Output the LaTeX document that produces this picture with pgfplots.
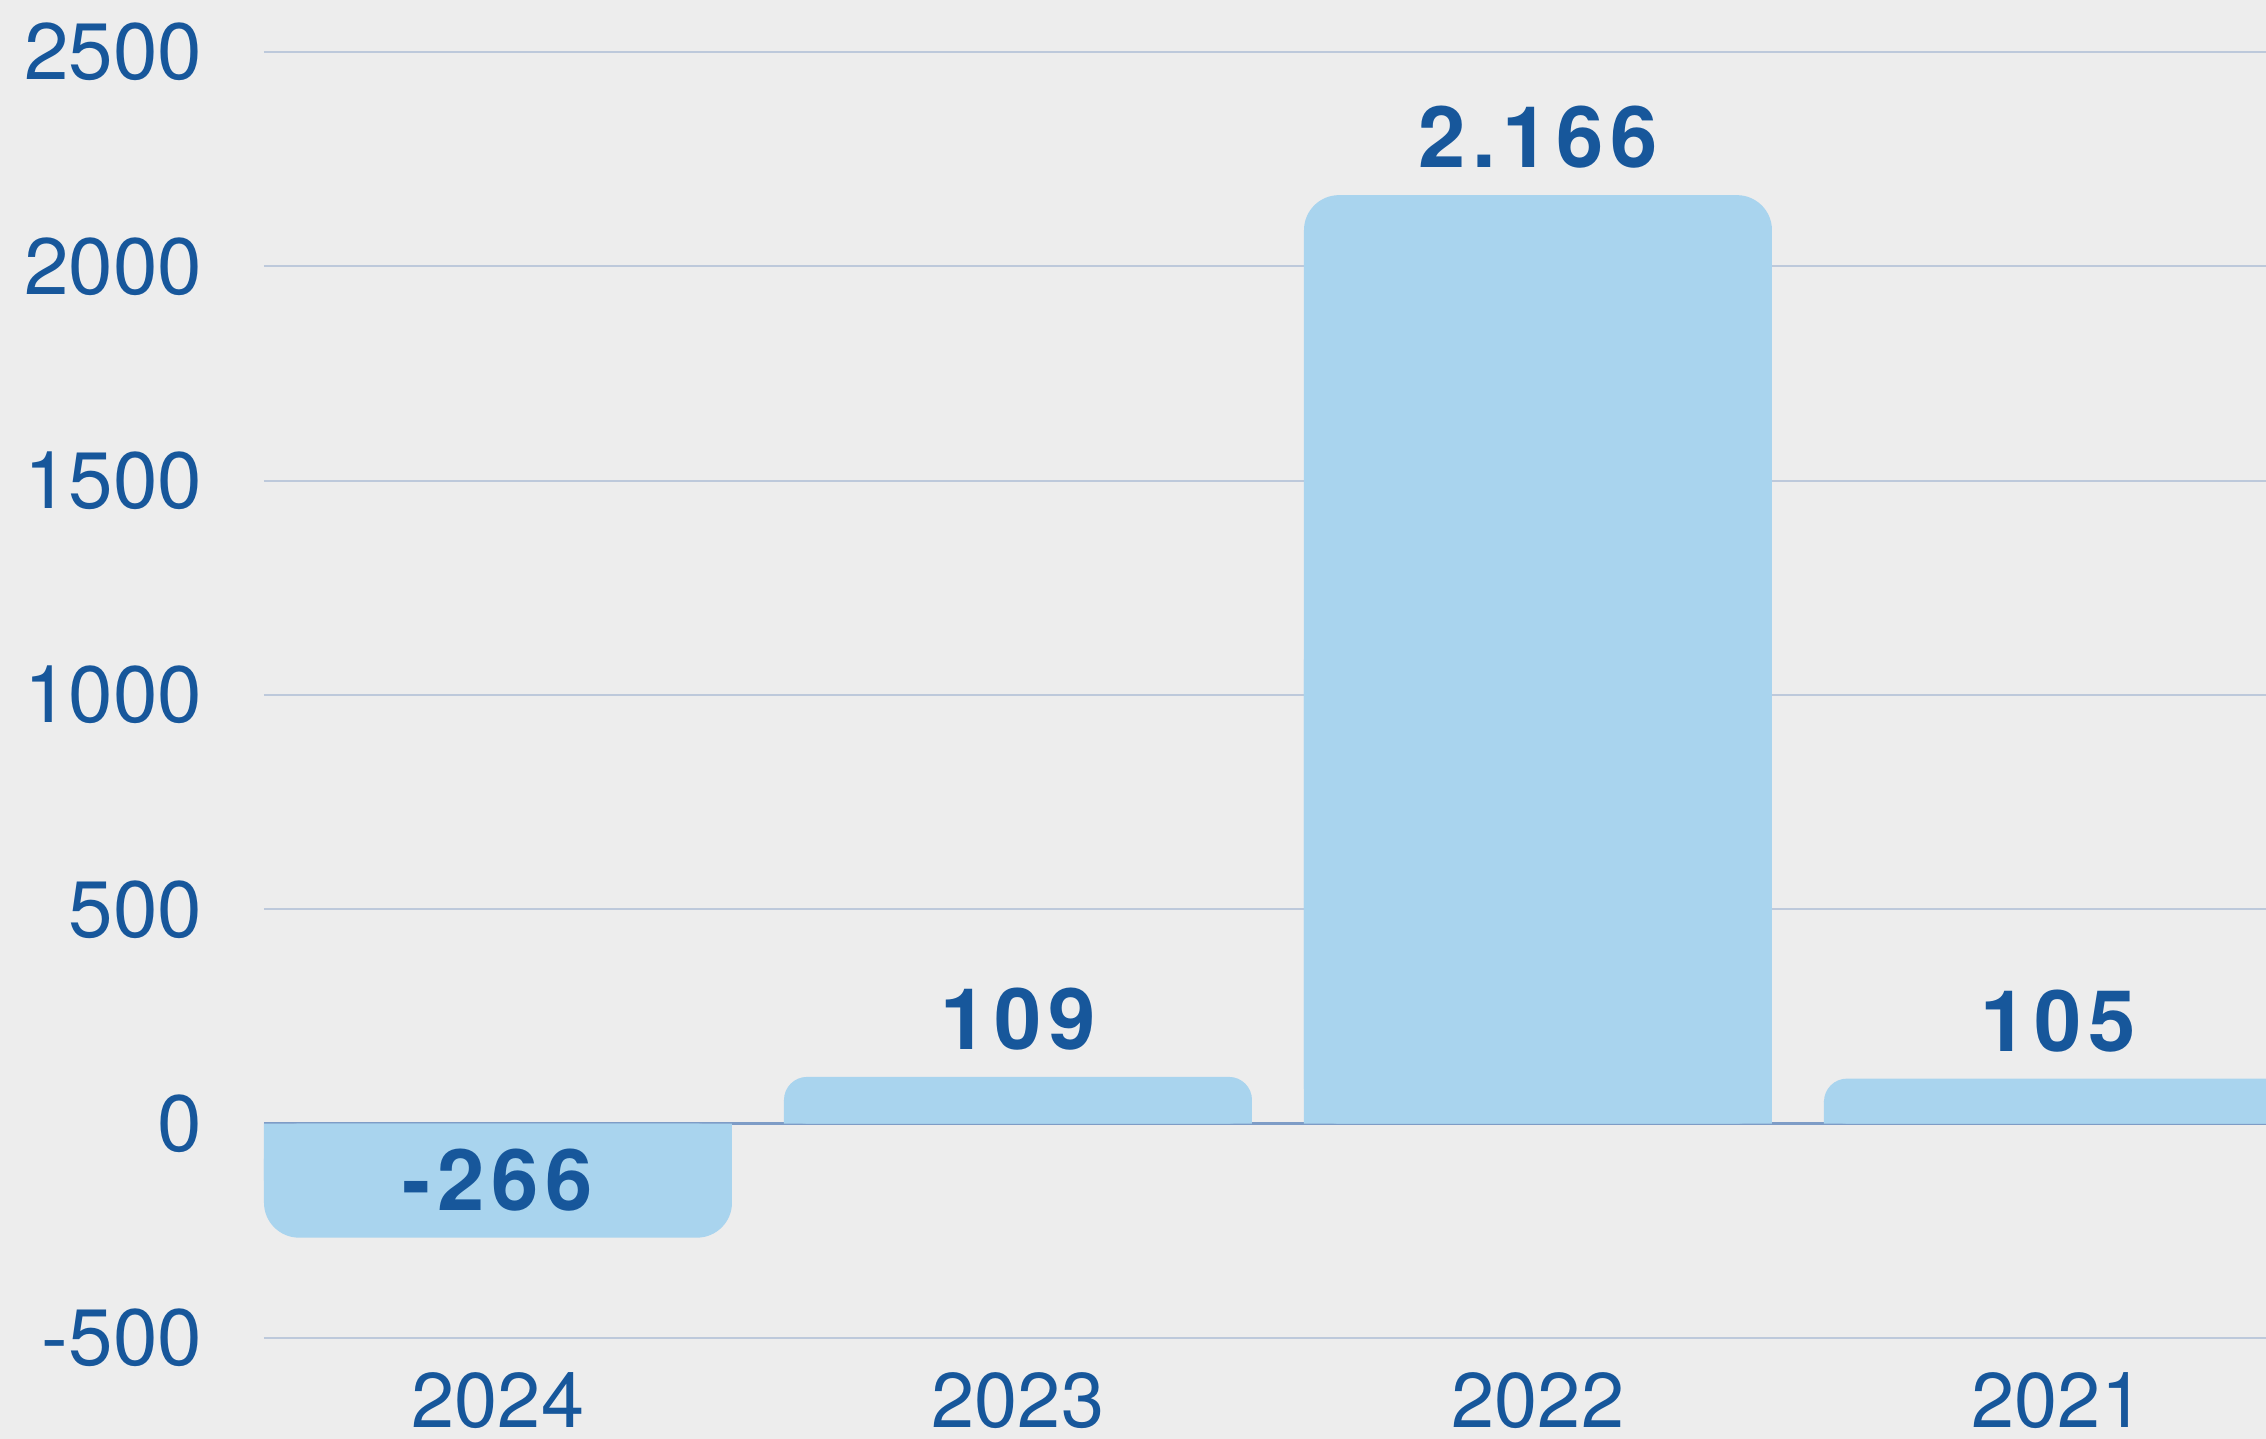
\documentclass[border=0pt]{standalone}
\usepackage{fontspec}
\setmainfont{TeX Gyre Heros}
\newfontfamily\valfont[LetterSpace=8]{TeX Gyre Heros}
\usepackage{pgfplots}
\usepackage{pgfplotstable}
\pgfplotsset{compat=1.18}

\definecolor{bgc}{HTML}{EDEDED}
\definecolor{barc}{HTML}{A9D4EE}
\definecolor{txtc}{HTML}{17579B}
\definecolor{gridc}{HTML}{BDC9DB}
\definecolor{zeroc}{HTML}{7E9CC6}

% tall bars and short bars, split so the corner radius can differ
\pgfplotstableread{
x v
0 -266
2 2166
}\tallbars
\pgfplotstableread{
x v
1 109
3 105
}\shortbars

\begin{document}
\begin{tikzpicture}
\useasboundingbox (-52.8pt,-20.2pt) rectangle (400.4pt,267.6pt);
\fill[bgc] (-52.8pt,-20.2pt) rectangle (400.4pt,267.6pt);
\begin{axis}[
    at={(0pt,0pt)}, anchor=south west,
    scale only axis, width=400.4pt, height=257.2pt,
    xmin=-0.45, xmax=3.4, ymin=-500, ymax=2500,
    ytick={-500,0,500,1000,1500,2000,2500},
    xtick={0,1,2,3}, xticklabels={2024,2023,2022,2021},
    axis line style={draw=none}, major tick length=0pt,
    ymajorgrids, grid style={gridc, line width=0.45pt},
    extra y ticks={0}, extra y tick labels={},
    extra y tick style={grid style={zeroc, line width=0.6pt}},
    yticklabel style={/pgf/number format/1000 sep={}, /pgf/number format/assume math mode=true,
        font=\fontsize{16}{16}\selectfont, text=txtc, inner sep=0pt, xshift=-12.2pt},
    xticklabel style={font=\fontsize{15.5}{15.5}\selectfont, text=txtc, inner sep=0pt,
        anchor=north, yshift=-6.8pt},
    ybar, bar width=0.9,
    valbar/.style={fill=barc, draw=none, bar shift=0pt,
        nodes near coords={\pgfmathprintnumber[1000 sep={.}, assume math mode=true]{\pgfplotspointmeta}},
        nodes near coords align={center},
        every node near coord/.append style={yshift=11.6pt, text=txtc,
            font=\valfont\bfseries\fontsize{17}{17}\selectfont, rounded corners=0pt}},
]
% square base halves, so only the far end of each bar is rounded
\addplot[fill=barc, draw=none, bar shift=0pt] table[x=x, y expr=\thisrow{v}*0.5] {\tallbars};
\addplot[fill=barc, draw=none, bar shift=0pt] table[x=x, y expr=\thisrow{v}*0.5] {\shortbars};
\addplot[valbar, rounded corners=7pt] table[x=x, y=v] {\tallbars};
\addplot[valbar, rounded corners=4.6pt] table[x=x, y=v] {\shortbars};
\end{axis}
\end{tikzpicture}
\end{document}
